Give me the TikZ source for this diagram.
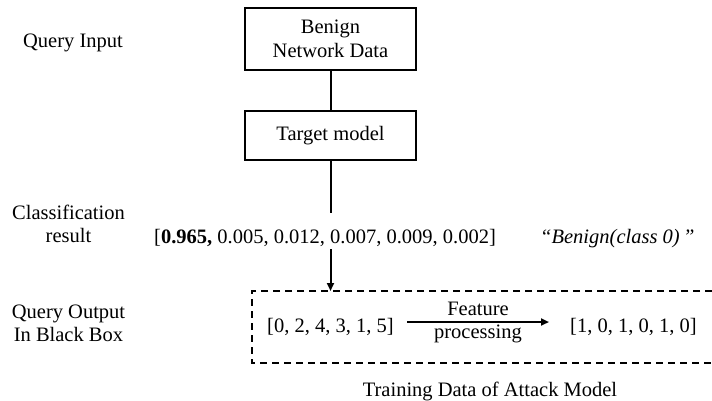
\documentclass[tikz,border=0pt]{standalone}
\usepackage{fontspec}
\setmainfont{Liberation Serif}
\usetikzlibrary{arrows.meta}
\begin{document}
\begin{tikzpicture}[x=1pt,y=-1pt,
  every node/.style={font=\fontsize{20.5}{23.6}\selectfont, inner sep=0pt},
  boxnode/.style={draw, line width=2pt, minimum width=171pt, align=center},
  conn/.style={line width=2pt},
  arr/.style={line width=2pt, -{Triangle[length=8pt,width=7pt]}},
  dashbox/.style={line width=2pt, dash pattern=on 7pt off 5pt},
  ]
\useasboundingbox (0,0) rectangle (712,400);
% boxes
\node[boxnode, minimum height=62pt] (data) at (330.5,39) {Benign\\Network Data};
\node[boxnode, minimum height=49pt] (target) at (330.5,135.5) {Target model};
% left labels
\node[anchor=base] (qin) at (73,47) {Query Input};
\node[anchor=south, align=center] (cls) at (68.5,243) {Classification\\result};
\node[anchor=south, align=center] (qout) at (68.5,342) {Query Output\\In Black Box};
% classification result
\node[anchor=base west] (probs) at (154,243) {[\textbf{0.965,} 0.005, 0.012, 0.007, 0.009, 0.002]};
\node[anchor=base west] (cname) at (540,243) {\textit{“Benign(class 0)\,”}};
% dashed box
\coordinate (dtr) at (712,291);
\coordinate (dtl) at (252,291);
\coordinate (dbl) at (252,363);
\coordinate (dbr) at (712,363);
\draw[dashbox] (dtr) -- (dtl) -- (dbl) -- (dbr);
% contents of dashed box
\node[anchor=base west] (vin) at (267,332) {[0, 2, 4, 3, 1, 5]};
\node[anchor=base west] (vout) at (570,332) {[1, 0, 1, 0, 1, 0]};
\node[anchor=base] (feat) at (478,315) {Feature};
\node[anchor=base] (proc) at (478,338) {processing};
\coordinate (fa) at (407,322);
\coordinate (fb) at (549,322);
\draw[arr] (fa) -- (fb);
\node[anchor=base] (train) at (490,396) {Training Data of Attack Model};
% connectors
\coordinate (c1) at (330.5,213);
\coordinate (c2) at (330.5,249);
\coordinate (c3) at (330.5,291);
\draw[conn] (data.south) -- (target.north);
\draw[conn] (target.south) -- (c1);
\draw[arr] (c2) -- (c3);
\end{tikzpicture}
\end{document}
